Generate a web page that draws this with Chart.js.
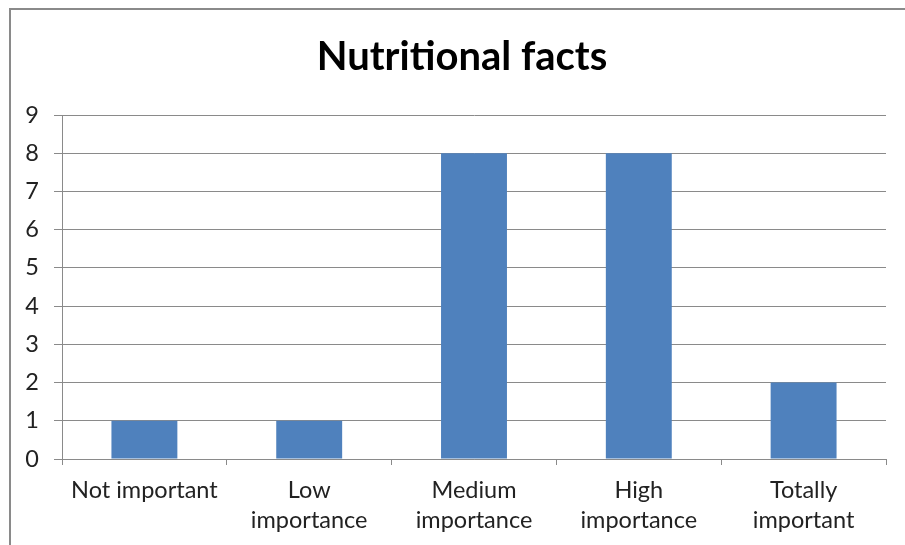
<!DOCTYPE html>
<html lang="en">
<head>
  <meta charset="UTF-8" />
  <title>Nutritional facts</title>
  <script src="https://cdn.jsdelivr.net/npm/chart.js"></script>
  <style>
    body { margin: 0; background: #fff; }
    .frame { position: absolute; left: 9px; top: 8px; width: 905px; height: 545px; border: 2px solid #8a8a8a; }
    .wrap { position: absolute; left: 0; top: 0; width: 905px; height: 545px; }
  </style>
</head>
<body>
  <div class="frame"></div>
  <div class="wrap"><canvas id="chart" width="905" height="545"></canvas></div>

  <script>
    const categories = [['Not important'], ['Low', 'importance'], ['Medium', 'importance'], ['High', 'importance'], ['Totally', 'important']];
    const counts = [1, 1, 8, 8, 2];
    const yTicks = [0, 1, 2, 3, 4, 5, 6, 7, 8, 9];

    const fontFamily = 'Lato, "Open Sans", sans-serif';

    // nudge the title so it is centred like the original (not on the full canvas)
    const titleShift = {
      id: 'titleShift',
      afterLayout(chart) {
        if (chart.titleBlock) chart.titleBlock.left = 38;
      }
    };

    new Chart(document.getElementById('chart'), {
      type: 'bar',
      data: {
        labels: categories,
        datasets: [{
          data: counts,
          backgroundColor: '#4f81bd',
          borderWidth: 0,
          categoryPercentage: 1,
          barPercentage: 0.4
        }]
      },
      options: {
        responsive: false,
        animation: false,
        layout: { padding: { left: 20, right: 19, top: 0, bottom: 0 } },
        plugins: {
          legend: { display: false },
          tooltip: { enabled: false },
          title: {
            display: true,
            text: 'Nutritional facts',
            color: '#000',
            font: { family: fontFamily, size: 40, weight: 'bold' },
            padding: { top: 33, bottom: 34 }
          }
        },
        scales: {
          x: {
            afterFit: (scale) => { scale.height = 86; },
            grid: { drawOnChartArea: false, drawTicks: true, tickLength: 6, color: '#8a8a8a', offset: true },
            border: { color: '#8a8a8a' },
            ticks: {
              color: '#222',
              font: { family: fontFamily, size: 23.5, lineHeight: 1.26 },
              padding: 11,
              maxRotation: 0,
              autoSkip: false
            }
          },
          y: {
            min: 0,
            max: 9,
            afterFit: (scale) => { scale.width = 42; },
            afterBuildTicks: (scale) => { scale.ticks = yTicks.map(v => ({ value: v })); },
            grid: { color: '#8a8a8a', tickLength: 8 },
            border: { color: '#8a8a8a' },
            ticks: {
              color: '#222',
              font: { family: fontFamily, size: 23.5 },
              padding: 15
            }
          }
        }
      },
      plugins: [titleShift]
    });
  </script>
</body>
</html>
